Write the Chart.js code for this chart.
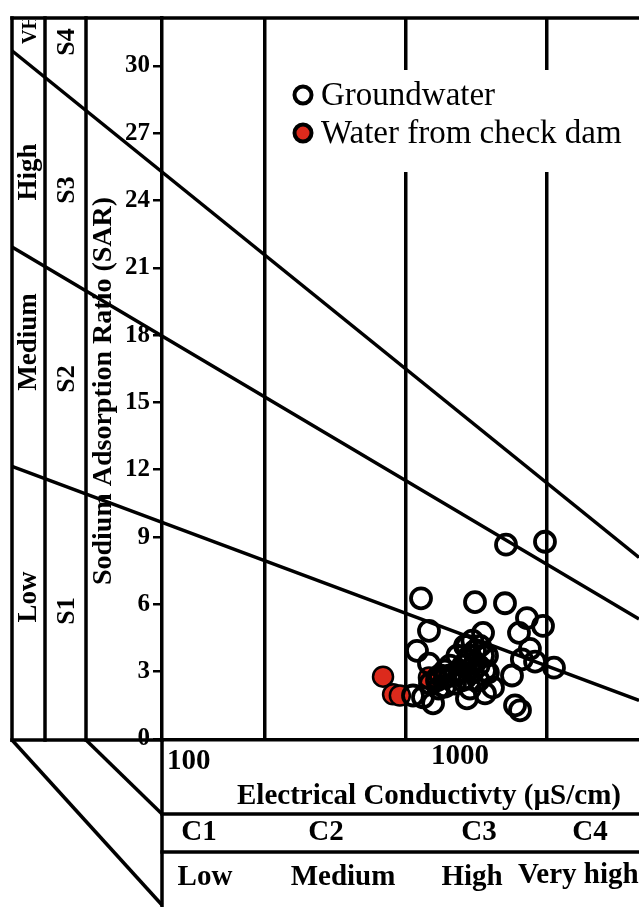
<!DOCTYPE html>
<html><head><meta charset="utf-8">
<style>html,body{margin:0;padding:0;background:#fff;} canvas{display:block;}</style>
<script src="https://cdn.jsdelivr.net/npm/chart.js@4.4.1/dist/chart.umd.min.js"></script>
</head><body>
<canvas id="c" width="639" height="907"></canvas>
<script>
// ---------- data ----------
const EC_GW = [1635, 2215, 843, 1284, 1622, 1925, 2181, 897, 1367, 1809, 1206, 817, 1970, 2376, 897, 1410, 1284, 1713, 1477, 1388, 1206, 856, 926, 1754, 1823, 792, 1850, 2050,
  904, 955, 1016, 1056, 1099, 1142, 1169, 1206, 1235, 1284, 1335, 1367, 1320, 1258, 1188, 1099, 1016, 966, 1388,
  1188, 1258, 1120, 1056, 1160, 1235, 1320, 1420, 1016, 977];
const SAR_GW = [8.66, 8.79, 6.27, 6.10, 6.05, 5.39, 5.04, 4.82, 4.73, 4.73, 4.15, 3.93, 4.02, 3.18, 3.36, 3.71, 3.40, 2.83, 2.30, 2.03, 1.81, 1.86, 1.59, 1.50, 1.28, 1.94, 3.55, 3.45,
  2.47, 2.61, 2.74, 2.83, 2.92, 3.05, 3.27, 3.49, 3.71, 3.93, 4.15, 3.71, 3.27, 2.96, 2.70, 2.47, 2.34, 2.25, 3.05,
  4.15, 4.38, 3.71, 3.27, 2.61, 2.25, 2.61, 2.96, 3.05, 2.83];
const EC_CD = [627, 678, 715, 897, 955];
const SAR_CD = [2.78, 1.99, 1.94, 2.74, 2.74];
const SAR_TICKS = [0, 3, 6, 9, 12, 15, 18, 21, 24, 27, 30];
const EC_CLASS_LIMITS = [250, 750, 2250];
const EC_RANGE = [112.0, 4609];
const SAR_RANGE = [-0.044, 32.13];
const LINE_EC = [34.8, 4609];
const S3S4_SAR = [30.67, 8.09];
const S2S3_SAR = [21.92, 5.35];
const S1S2_SAR = [12.15, 1.72];
const SERIES_LABELS = ['Groundwater', 'Water from check dam'];
const C_CLASSES = ['C1', 'C2', 'C3', 'C4'];
const C_HAZARD = ['Low', 'Medium', 'High', 'Very high'];
const S_CLASSES = ['S1', 'S2', 'S3', 'S4'];
const S_HAZARD = ['Low', 'Medium', 'High', 'VH'];
const EC_TICK_TEXT = ['100', '1000'];
const X_TITLE = 'Electrical Conductivty (\u00b5S/cm)';
const Y_TITLE = 'Sodium Adsorption Ratio (SAR)';

const RED = '#dc2a1c';
const SERIF = "'Liberation Serif', 'Times New Roman', serif";
const LW = 3.5;

const pts = (xs, ys) => xs.map((x, i) => ({x, y: ys[i]}));

function vtext(ctx, s, x, y, font) {
  ctx.save();
  ctx.translate(x, y);
  ctx.rotate(-Math.PI / 2);
  ctx.font = font;
  ctx.textAlign = 'center';
  ctx.textBaseline = 'middle';
  ctx.fillText(s, 0, 0);
  ctx.restore();
}
function htext(ctx, s, x, y, font, align) {
  ctx.font = font;
  ctx.textAlign = align || 'center';
  ctx.textBaseline = 'middle';
  ctx.fillText(s, x, y);
}

const framePlugin = {
  id: 'frame',
  afterDraw(chart) {
    const ctx = chart.ctx;
    const a = chart.chartArea;
    ctx.save();
    // legend box
    ctx.fillStyle = '#fff';
    ctx.fillRect(290, 70, 349, 102);
    const ds = chart.data.datasets;
    ctx.lineWidth = 4;
    ctx.strokeStyle = '#000';
    [[95, 0], [133, 1]].forEach(([yy, i]) => {
      ctx.beginPath();
      ctx.arc(303, yy, 8.5, 0, Math.PI * 2);
      ctx.fillStyle = i === 0 ? '#fff' : ds[i].backgroundColor;
      ctx.fill();
      ctx.stroke();
      ctx.fillStyle = '#000';
      htext(ctx, ds[i].label, 321, yy + 1, '33px ' + SERIF, 'left');
    });

    // frame lines
    ctx.strokeStyle = '#000';
    ctx.lineWidth = LW;
    ctx.lineCap = 'square';
    const L = 12, c1 = 45, c2 = 86, X = a.left, T = a.top, B = a.bottom, R = chart.width;
    const seg = (x1, y1, x2, y2) => { ctx.beginPath(); ctx.moveTo(x1, y1); ctx.lineTo(x2, y2); ctx.stroke(); };
    seg(L, T, R, T);
    seg(L, T, L, B);
    seg(c1, T, c1, B);
    seg(c2, T, c2, B);
    seg(L, B, X, B);
    seg(X, B, X, chart.height);
    seg(X, 814, R, 814);
    seg(X, 852, R, 852);
    ctx.lineCap = 'butt';
    seg(L, B, X, 905);
    seg(c2, B, X, 814);

    // left column labels
    ctx.fillStyle = '#000';
    ctx.save();
    ctx.beginPath(); ctx.rect(L, T + 2, c1 - L, B - T); ctx.clip();
    vtext(ctx, S_HAZARD[3], 31, 29, 'bold 20px ' + SERIF);
    ctx.restore();
    vtext(ctx, S_HAZARD[2], 29, 172, 'bold 27px ' + SERIF);
    vtext(ctx, S_HAZARD[1], 29, 342, 'bold 27px ' + SERIF);
    vtext(ctx, S_HAZARD[0], 29, 597, 'bold 27px ' + SERIF);
    vtext(ctx, S_CLASSES[3], 67, 42, 'bold 26px ' + SERIF);
    vtext(ctx, S_CLASSES[2], 67, 190, 'bold 26px ' + SERIF);
    vtext(ctx, S_CLASSES[1], 67, 379, 'bold 26px ' + SERIF);
    vtext(ctx, S_CLASSES[0], 67, 611, 'bold 26px ' + SERIF);
    vtext(ctx, Y_TITLE, 104, 391, 'bold 28px ' + SERIF);

    // bottom strips
    const bf = 'bold 29px ' + SERIF;
    htext(ctx, EC_TICK_TEXT[0], 167, 762, bf, 'left');
    htext(ctx, EC_TICK_TEXT[1], 460, 757, bf);
    htext(ctx, X_TITLE, 429, 797, bf);
    [199, 326, 479, 590].forEach((x, i) => htext(ctx, C_CLASSES[i], x, 833, bf));
    [205, 343, 472].forEach((x, i) => htext(ctx, C_HAZARD[i], x, 878, bf));
    htext(ctx, C_HAZARD[3], 518, 876, bf, 'left');
    ctx.restore();
  }
};

const lineDs = (label, sar) => ({
  label, data: pts(LINE_EC, sar), showLine: true, borderColor: '#000', borderWidth: LW,
  pointRadius: 0, clip: false, order: 2
});

new Chart(document.getElementById('c'), {
  type: 'scatter',
  data: {
    datasets: [
      {label: SERIES_LABELS[0], data: pts(EC_GW, SAR_GW), pointRadius: 10, borderWidth: 3.8,
        borderColor: '#000', backgroundColor: 'rgba(255,255,255,0)', order: 0},
      {label: SERIES_LABELS[1], data: pts(EC_CD, SAR_CD), pointRadius: 10, borderWidth: 2.5,
        borderColor: '#000', backgroundColor: RED, order: 1},
      lineDs('S3/S4', S3S4_SAR),
      lineDs('S2/S3', S2S3_SAR),
      lineDs('S1/S2', S1S2_SAR)
    ]
  },
  options: {
    responsive: false,
    animation: false,
    layout: {padding: {left: 12, top: 12, right: 0, bottom: 167}, autoPadding: false},
    plugins: {legend: {display: false}, tooltip: {enabled: false}},
    scales: {
      x: {
        type: 'logarithmic', min: EC_RANGE[0], max: EC_RANGE[1],
        afterBuildTicks: s => { s.ticks = EC_CLASS_LIMITS.map(v => ({value: v})); },
        ticks: {display: false},
        grid: {color: '#000', lineWidth: LW, drawTicks: false},
        border: {display: true, color: '#000', width: LW},
        afterFit: s => { s.height = 0; }
      },
      y: {
        type: 'linear', min: SAR_RANGE[0], max: SAR_RANGE[1],
        afterBuildTicks: s => { s.ticks = SAR_TICKS.map(v => ({value: v})); },
        ticks: {color: '#000', font: {family: SERIF, size: 25, weight: 'bold'}, padding: 3},
        grid: {drawOnChartArea: false, color: '#000', lineWidth: 2.5, tickLength: 9},
        border: {display: true, color: '#000', width: LW},
        afterFit: s => { s.width = 150; }
      }
    }
  },
  plugins: [framePlugin]
});
</script>
</body></html>
